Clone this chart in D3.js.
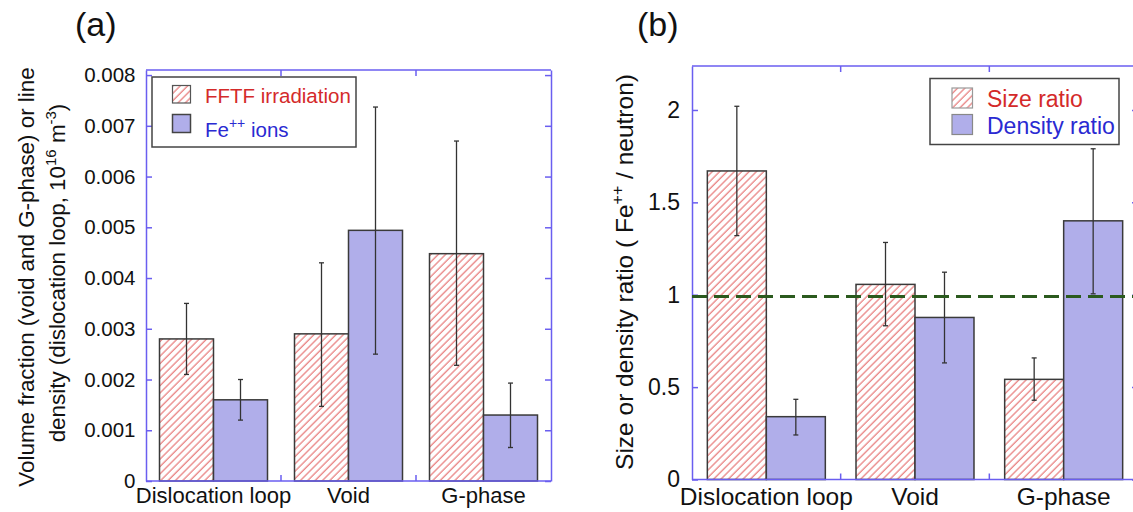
<!DOCTYPE html>
<html>

<head>
  <meta charset="utf-8">
  <script src="https://d3js.org/d3.v7.min.js"></script>
  <style>
    html,
    body {
      margin: 0;
      padding: 0;
      background: #fff;
    }
    svg {
      display: block;
      font-family: "Liberation Sans", Arial, Helvetica, sans-serif;
    }
  </style>
</head>

<body>
  <svg id="chart" width="1133" height="512"></svg>

  <script>
    // shared categories
    var categories = ["Dislocation loop", "Void", "G-phase"];

    // panel (a): volume fraction (void, G-phase) or line density (loops)
    var fftfValues = [0.0028, 0.0029, 0.00448];
    var fftfLow = [0.0021, 0.00147, 0.00228];
    var fftfHigh = [0.0035, 0.0043, 0.0067];
    var ionValues = [0.0016, 0.00494, 0.0013];
    var ionLow = [0.0012, 0.0025, 0.00066];
    var ionHigh = [0.002, 0.00737, 0.00193];
    var volumeTicks = [0, 0.001, 0.002, 0.003, 0.004, 0.005, 0.006, 0.007, 0.008];
    var legendA = ["FFTF irradiation", "Fe", "++", " ions"];

    // panel (b): Fe++ / neutron ratios
    var sizeRatio = [1.67, 1.056, 0.542];
    var sizeLow = [1.32, 0.832, 0.429];
    var sizeHigh = [2.02, 1.283, 0.658];
    var densityRatio = [0.34, 0.877, 1.40];
    var densityLow = [0.241, 0.631, 1.005];
    var densityHigh = [0.434, 1.122, 1.79];
    var ratioTicks = [0, 0.5, 1, 1.5, 2];
    var unityLine = 0.99;
    var legendB = ["Size ratio", "Density ratio"];

    var axisColor = "#6a5ef0";
    var barStroke = "#3a3a3a";
    var ionFill = "#b0aeea";
    var redText = "#d42a2a";
    var blueText = "#2a2ad2";

    var svg = d3.select("#chart");

    // diagonal red hatch used for the neutron bars
    svg.append("defs")
      .append("pattern")
      .attr("id", "hatch")
      .attr("patternUnits", "userSpaceOnUse")
      .attr("width", 5.2)
      .attr("height", 5.2)
      .attr("patternTransform", "rotate(45)")
      .call(p => {
        p.append("rect").attr("width", 5.2).attr("height", 5.2).attr("fill", "#fff");
        p.append("line")
          .attr("x1", 1).attr("y1", 0).attr("x2", 1).attr("y2", 5.2)
          .attr("stroke", "#e56b6b")
          .attr("stroke-width", 1.1);
      });

    function drawPanel(p) {
      var g = svg.append("g");

      var x0 = d3.scaleBand()
        .domain(categories)
        .range([p.left, p.right])
        .padding(0);

      var x1 = d3.scaleBand()
        .domain([0, 1])
        .range([0, x0.bandwidth()])
        .paddingInner(0)
        .paddingOuter(p.padOuter);

      var y = d3.scaleLinear()
        .domain([0, p.yMax])
        .range([p.bottom, p.top]);

      // bars
      p.series.forEach((s, si) => {
        g.selectAll(null)
          .data(categories)
          .join("rect")
          .attr("x", d => x0(d) + x1(si))
          .attr("y", (d, i) => y(s.values[i]))
          .attr("width", x1.bandwidth())
          .attr("height", (d, i) => y(0) - y(s.values[i]))
          .attr("fill", s.fill)
          .attr("stroke", barStroke)
          .attr("stroke-width", 1.5);
      });

      // error bars
      p.series.forEach((s, si) => {
        var cx = d => x0(d) + x1(si) + x1.bandwidth() / 2;
        var eb = g.selectAll(null)
          .data(categories)
          .join("g")
          .attr("stroke", "#333")
          .attr("stroke-width", 1.3);
        eb.append("line")
          .attr("x1", cx).attr("x2", cx)
          .attr("y1", (d, i) => y(s.low[i]))
          .attr("y2", (d, i) => y(s.high[i]));
        eb.append("line")
          .attr("x1", d => cx(d) - 2.5).attr("x2", d => cx(d) + 2.5)
          .attr("y1", (d, i) => y(s.low[i]))
          .attr("y2", (d, i) => y(s.low[i]));
        eb.append("line")
          .attr("x1", d => cx(d) - 2.5).attr("x2", d => cx(d) + 2.5)
          .attr("y1", (d, i) => y(s.high[i]))
          .attr("y2", (d, i) => y(s.high[i]));
      });

      // left axis, ticks pointing inwards
      var left = g.append("g")
        .attr("transform", "translate(" + p.left + ",0)")
        .call(d3.axisLeft(y)
          .tickValues(p.ticks)
          .tickFormat(p.format)
          .tickSize(-6)
          .tickSizeOuter(0)
          .tickPadding(p.tickPad));
      left.selectAll("text")
        .attr("fill", "#111")
        .attr("font-size", p.tickFont)
        .attr("font-family", null);

      // right axis
      g.append("g")
        .attr("transform", "translate(" + p.right + ",0)")
        .call(d3.axisRight(y)
          .tickValues(p.ticks)
          .tickFormat("")
          .tickSize(-6)
          .tickSizeOuter(0));

      g.selectAll(".domain, .tick line")
        .attr("stroke", axisColor)
        .attr("stroke-width", 1.5);

      // top and bottom frame with ticks at the group boundaries
      [p.top, p.bottom].forEach((yy, k) => {
        g.append("line")
          .attr("x1", p.left).attr("x2", p.right)
          .attr("y1", yy).attr("y2", yy)
          .attr("stroke", axisColor)
          .attr("stroke-width", 1.5);
        g.selectAll(null)
          .data(categories.slice(1))
          .join("line")
          .attr("x1", d => x0(d)).attr("x2", d => x0(d))
          .attr("y1", yy)
          .attr("y2", k === 0 ? yy + 6 : yy - 6)
          .attr("stroke", axisColor)
          .attr("stroke-width", 1.5);
      });

      // category labels
      var bottom = g.append("g")
        .attr("transform", "translate(0," + p.bottom + ")")
        .call(d3.axisBottom(x0).tickSize(0).tickPadding(p.catPad));
      bottom.select(".domain").remove();
      bottom.selectAll("text")
        .attr("fill", "#111")
        .attr("font-size", p.catFont)
        .attr("font-family", null);

      // panel letter
      g.append("text")
        .attr("x", p.letterX)
        .attr("y", 36)
        .attr("font-size", 34)
        .attr("fill", "#111")
        .text(p.letter);

      return { g: g, x0: x0, y: y };
    }

    // ---------- panel (a)
    var pa = drawPanel({
      left: 146, right: 551, top: 70, bottom: 481,
      yMax: 0.0081, ticks: volumeTicks,
      format: d => d === 0 ? "0" : d3.format(".3f")(d),
      tickPad: 10.5, tickFont: 20.5, catPad: 6, catFont: 22,
      padOuter: 0.25, letter: "(a)", letterX: 75,
      series: [
        { values: fftfValues, low: fftfLow, high: fftfHigh, fill: "url(#hatch)" },
        { values: ionValues, low: ionLow, high: ionHigh, fill: ionFill }
      ]
    });

    // y label, two lines
    pa.g.append("text")
      .attr("transform", "translate(33.5,277) rotate(-90)")
      .attr("text-anchor", "middle")
      .attr("font-size", 22.4)
      .attr("fill", "#111")
      .text("Volume fraction (void and G-phase) or line");

    var la = pa.g.append("text")
      .attr("transform", "translate(65,273) rotate(-90)")
      .attr("text-anchor", "middle")
      .attr("font-size", 22.4)
      .attr("fill", "#111");
    la.append("tspan").text("density (dislocation loop, 10");
    la.append("tspan").attr("dy", -9).attr("font-size", 15).text("16");
    la.append("tspan").attr("dy", 9).text(" m");
    la.append("tspan").attr("dy", -9).attr("font-size", 15).text("-3");
    la.append("tspan").attr("dy", 9).text(")");

    // legend (a)
    var lga = pa.g.append("g");
    lga.append("rect")
      .attr("x", 152).attr("y", 77).attr("width", 204).attr("height", 70)
      .attr("fill", "#fff").attr("stroke", "#444").attr("stroke-width", 1.5);
    lga.append("rect")
      .attr("x", 172.5).attr("y", 85.5).attr("width", 18).attr("height", 17.5)
      .attr("fill", "url(#hatch)").attr("stroke", "#555").attr("stroke-width", 1.2);
    lga.append("rect")
      .attr("x", 172.5).attr("y", 114.5).attr("width", 18).attr("height", 18)
      .attr("fill", ionFill).attr("stroke", "#444").attr("stroke-width", 1.5);
    lga.append("text")
      .attr("x", 205).attr("y", 102.5)
      .attr("font-size", 20.5).attr("fill", redText)
      .text(legendA[0]);
    var fe = lga.append("text")
      .attr("x", 205).attr("y", 136.5)
      .attr("font-size", 20.5).attr("fill", blueText);
    fe.append("tspan").text(legendA[1]);
    fe.append("tspan").attr("dy", -9).attr("font-size", 14).text(legendA[2]);
    fe.append("tspan").attr("dy", 9).text(legendA[3]);

    // ---------- panel (b)
    var pb = drawPanel({
      left: 692, right: 1138, top: 66, bottom: 479.5,
      yMax: 2.238, ticks: ratioTicks,
      format: d3.format("~g"),
      tickPad: 12, tickFont: 23, catPad: 8, catFont: 24.5,
      padOuter: 0.26, letter: "(b)", letterX: 637,
      series: [
        { values: sizeRatio, low: sizeLow, high: sizeHigh, fill: "url(#hatch)" },
        { values: densityRatio, low: densityLow, high: densityHigh, fill: ionFill }
      ]
    });

    // dashed reference line at ratio ~ 1
    pb.g.append("line")
      .attr("x1", 692).attr("x2", 1138)
      .attr("y1", pb.y(unityLine)).attr("y2", pb.y(unityLine))
      .attr("stroke", "#2b5a1e")
      .attr("stroke-width", 3)
      .attr("stroke-dasharray", "15 7");

    var lb = pb.g.append("text")
      .attr("transform", "translate(633,272) rotate(-90)")
      .attr("text-anchor", "middle")
      .attr("font-size", 24.5)
      .attr("fill", "#111");
    lb.append("tspan").text("Size or density ratio ( Fe");
    lb.append("tspan").attr("dy", -10).attr("font-size", 16).text("++");
    lb.append("tspan").attr("dy", 10).text(" / neutron)");

    // legend (b)
    var lgb = pb.g.append("g");
    lgb.append("rect")
      .attr("x", 930).attr("y", 78.5).attr("width", 189).attr("height", 66)
      .attr("fill", "#fff").attr("stroke", "#444").attr("stroke-width", 1.5);
    lgb.append("rect")
      .attr("x", 952).attr("y", 88).attr("width", 20.5).attr("height", 20)
      .attr("fill", "url(#hatch)").attr("stroke", "#999").attr("stroke-width", 1.2);
    lgb.append("rect")
      .attr("x", 952).attr("y", 114.5).attr("width", 20.5).attr("height", 20)
      .attr("fill", ionFill).attr("stroke", "#888").attr("stroke-width", 1.2);
    lgb.selectAll(null)
      .data(legendB)
      .join("text")
      .attr("x", 987)
      .attr("y", (d, i) => i === 0 ? 106.5 : 133.5)
      .attr("font-size", 23)
      .attr("fill", (d, i) => i === 0 ? redText : blueText)
      .text(d => d);
  </script>
</body>

</html>
